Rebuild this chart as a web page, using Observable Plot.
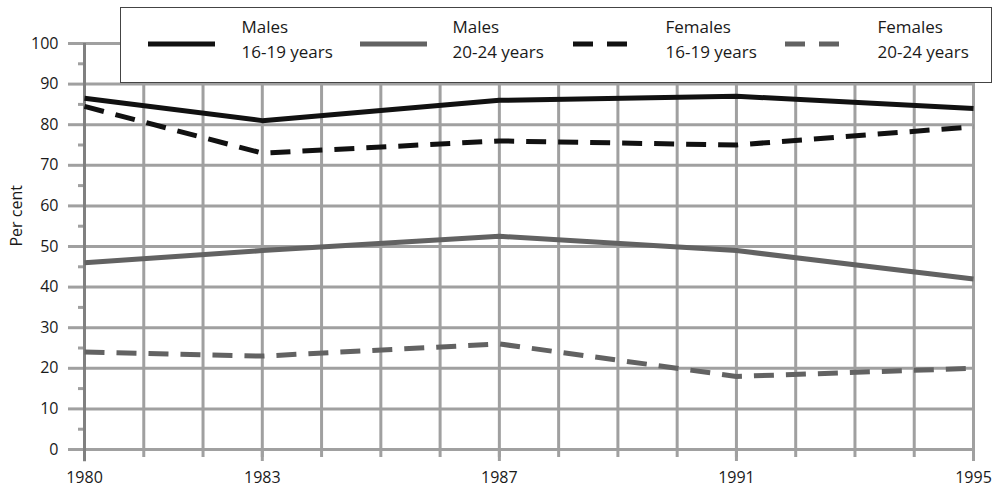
<!DOCTYPE html>
<html>
<head>
<meta charset="utf-8">
<script src="https://cdn.jsdelivr.net/npm/d3@7"></script>
<script src="https://cdn.jsdelivr.net/npm/@observablehq/plot@0.6"></script>
<style>
  html, body { margin: 0; padding: 0; background: #fff; }
  #wrap { position: relative; width: 999px; height: 490px; font-family: "Open Sans", "Noto Sans", sans-serif; }
  #legend { position: absolute; left: 120px; top: 7px; width: 872px; height: 76px; background: #fff; border: 1.5px solid #444; box-sizing: border-box; }
  .swatch { position: absolute; top: 32px; }
  .lab { position: absolute; top: 6px; font-size: 17px; line-height: 25px; color: #1a1a1a; white-space: nowrap; }
</style>
</head>
<body>
<div id="wrap"><div id="chart"></div><div id="legend"></div></div>
<script>
const years = [1980, 1983, 1987, 1991, 1995];
const males1619 = [86.5, 81, 86, 87, 84];
const males2024 = [46, 49, 52.5, 49, 42];
const females1619 = [84.5, 73, 76, 75, 79.5];
const females2024 = [24, 23, 26, 18, 20];
const seriesNames = ["Males 16-19 years", "Males 20-24 years", "Females 16-19 years", "Females 20-24 years"];
const seriesValues = [males1619, males2024, females1619, females2024];
const seriesColor = ["#111", "#626262", "#111", "#626262"];
const seriesDash = [null, null, "20,12", "20,12"];
const gridYears = d3.range(1980, 1996);
const yTicks = d3.range(0, 101, 10);
const yMinor = d3.range(5, 100, 10);

const rows = [];
seriesNames.forEach((s, i) => years.forEach((y, j) => rows.push({series: s, year: y, value: seriesValues[i][j]})));

const lineMarks = seriesNames.map((s, i) => Plot.line(rows.filter(d => d.series === s), {
  x: "year", y: "value", stroke: seriesColor[i], strokeWidth: 5,
  strokeDasharray: seriesDash[i], strokeLinecap: "butt", strokeLinejoin: "round"
}));

const grid = "#a0a0a0";
const chart = Plot.plot({
  width: 999, height: 490,
  marginLeft: 84, marginRight: 26, marginTop: 43, marginBottom: 41,
  style: {fontFamily: '"Open Sans", "Noto Sans", sans-serif', fontSize: "16px", color: "#1a1a1a", background: "#fff"},
  x: {domain: [1980, 1995]},
  y: {domain: [0, 100]},
  marks: [
    Plot.ruleY(yTicks, {y: d => d, x1: 1980, x2: 1995, stroke: grid, strokeWidth: 3}),
    Plot.ruleX(gridYears, {x: d => d, y1: 0, y2: 100, stroke: grid, strokeWidth: 3}),
    Plot.axisX(gridYears, {tickSize: 8, tickFormat: () => "", stroke: grid, strokeWidth: 3, label: null}),
    Plot.axisX(years, {tickSize: 12, tickFormat: "d", tickPadding: 10, stroke: grid, strokeWidth: 3, fontSize: 16, label: null}),
    Plot.axisY(yTicks, {tickSize: 16, tickPadding: 10, stroke: grid, strokeWidth: 3, fontSize: 16, label: null}),
    Plot.axisY(yMinor, {tickSize: 6, tickFormat: () => "", stroke: grid, strokeWidth: 3, label: null}),
    Plot.ruleX([1980], {y1: -3, y2: 100, stroke: "#808080", strokeWidth: 3}),
    ...lineMarks,
    Plot.text(["Per cent"], {frameAnchor: "left", dx: -68, dy: 0, rotate: -90, fontSize: 16})
  ]
});
document.getElementById("chart").appendChild(chart);

// legend
const legend = document.getElementById("legend");
const legendPos = [[26.5, 120.5], [238.5, 331.5], [451.5, 544.5], [663.5, 756.5]];
seriesNames.forEach((s, i) => {
  const [sx, tx] = legendPos[i];
  const w = seriesDash[i] ? 54 : 67;
  const sw = document.createElementNS("http://www.w3.org/2000/svg", "svg");
  sw.setAttribute("width", w); sw.setAttribute("height", 8);
  sw.classList.add("swatch");
  sw.style.left = sx + "px";
  sw.innerHTML = `<line x1="0" x2="${w}" y1="4" y2="4" stroke="${seriesColor[i]}" stroke-width="5" ${seriesDash[i] ? `stroke-dasharray="20,14"` : ""}/>`;
  legend.appendChild(sw);
  const parts = s.split(" ");
  const lab = document.createElement("div");
  lab.className = "lab";
  lab.style.left = tx + "px";
  lab.innerHTML = parts[0] + "<br>" + parts.slice(1).join(" ");
  legend.appendChild(lab);
});
</script>
</body>
</html>
